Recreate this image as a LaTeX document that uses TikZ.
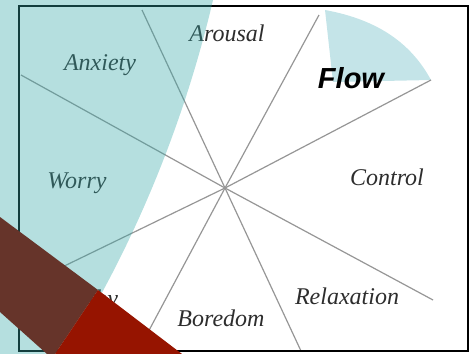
\documentclass[tikz,border=0pt]{standalone}
\usepackage{fontspec}
\setmainfont{Liberation Serif}
\newfontfamily\flowfont{Liberation Sans}
\usepackage{tikz}
\usetikzlibrary{positioning}

\definecolor{spokegray}{RGB}{150,150,150}
\definecolor{labelgray}{RGB}{45,45,45}
\definecolor{tealzone}{RGB}{54,167,167}
\definecolor{flowzone}{RGB}{196,228,232}
\definecolor{bandbrown}{RGB}{102,52,42}
\definecolor{bandred}{RGB}{150,20,0}

\begin{document}
\begin{tikzpicture}[
  x=1pt, y=-1pt,
  state/.style={inner sep=0pt, text=labelgray, font=\fontsize{24}{26}\selectfont\itshape},
  flowstate/.style={inner sep=0pt, text=black, font=\flowfont\fontsize{29}{30}\selectfont\bfseries\itshape},
  spoke/.style={draw=spokegray, line width=1.2pt},
  frame/.style={draw=black, line width=2pt}
]
  \useasboundingbox (0,0) rectangle (472,354);

  % Flow sector
  \fill[flowzone] (325,10) .. controls (380,20) and (412,45) .. (431,80) -- (333,82) -- cycle;

  % Spokes from the centre
  \coordinate (c) at (225,188);
  \foreach \x/\y [count=\i] in {142/10, 21/75, 19/288, 138/351, 301/351, 433/300, 431/80, 319/15} {
    \coordinate (s\i) at (\x,\y);
    \draw[spoke] (c) -- (s\i);
  }

  % States
  \node[state] (arousal) at (227,33) {Arousal};
  \node[state] (anxiety) at (100,65) {Anxiety};
  \node[state] (worry) at (77,183) {Worry};
  \node[state] (apathy) at (84,301) {Apathy};
  \node[state] (boredom) at (221,318) {Boredom};
  \node[state] (relax) at (347,296) {Relaxation};
  \node[state] (control) at (387,177) {Control};
  \node[flowstate] (flow) at (351,78) {Flow};

  % Frame
  \draw[frame] (19,6) rectangle (468,351);

  % Teal overlay
  \fill[tealzone, fill opacity=0.37] (0,0) -- (213,0) .. controls (185,120) and (135,245) .. (66,354) -- (0,354) -- cycle;

  % Corner band
  \fill[bandbrown] (0,217) -- (98,290) -- (55,354) -- (47,354) -- (0,312) -- cycle;
  \fill[bandred] (98,290) -- (182,354) -- (55,354) -- cycle;
\end{tikzpicture}
\end{document}
